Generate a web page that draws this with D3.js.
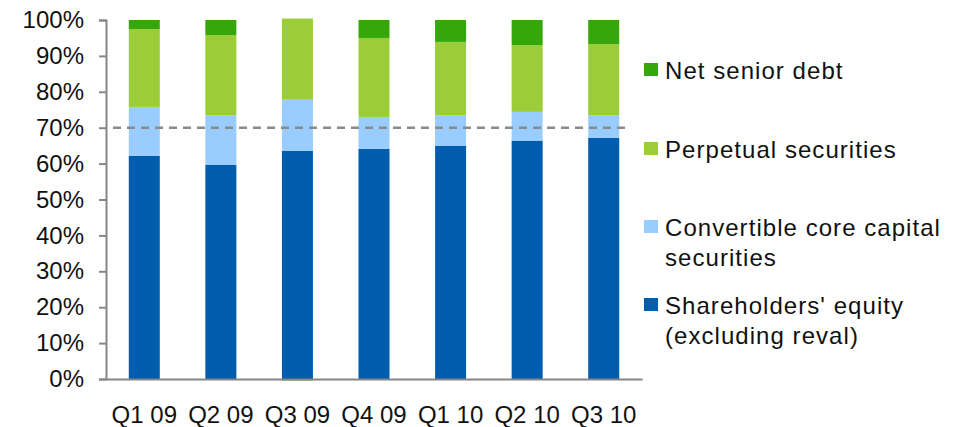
<!DOCTYPE html>
<html>
<head>
<meta charset="utf-8">
<script src="https://cdn.jsdelivr.net/npm/d3@7"></script>
<style>
  html, body { margin: 0; padding: 0; background: #fff; }
  svg text { font-family: "Liberation Sans", Arial, Helvetica, sans-serif; fill: #111; }
</style>
</head>
<body>
<svg id="chart" width="959" height="427"></svg>
<script>
// Funding mix by quarter, % of total
const quarters = ["Q1 09", "Q2 09", "Q3 09", "Q4 09", "Q1 10", "Q2 10", "Q3 10"];
const shareholdersEquity = [62.2, 59.7, 63.6, 64.1, 65.0, 66.4, 67.2];
const convertibleCore   = [13.6, 13.8, 14.2, 8.9, 8.5, 8.0, 6.3];
const perpetualSecs     = [21.7, 22.3, 22.6, 22.0, 20.4, 18.6, 19.8];
const netSeniorDebt     = [2.5, 4.2, -0.4, 5.0, 6.1, 7.0, 6.7];
const referenceLevel = 70;
const yTicks = [0, 10, 20, 30, 40, 50, 60, 70, 80, 90, 100];

const seriesNames = [
  "Shareholders' equity (excluding reval)",
  "Convertible core capital securities",
  "Perpetual securities",
  "Net senior debt"
];
const seriesValues = [shareholdersEquity, convertibleCore, perpetualSecs, netSeniorDebt];
const colors = ["#005DAE", "#99CCFF", "#9ACD38", "#36A70A"];

const rows = quarters.map((q, i) => {
  const r = { quarter: q };
  seriesNames.forEach((s, k) => { r[s] = seriesValues[k][i]; });
  return r;
});

const svg = d3.select("#chart");
const margin = { left: 106, right: 317, top: 20, bottom: 48 };
const W = 959, H = 427;

const x = d3.scaleBand().domain(quarters)
  .range([margin.left, W - margin.right]).paddingInner(0.595).paddingOuter(0.2975);
const y = d3.scaleLinear().domain([0, 100]).range([H - margin.bottom, margin.top]);

const stack = d3.stack().keys(seriesNames).offset(d3.stackOffsetDiverging);
const layers = stack(rows);

svg.append("g").selectAll("g").data(layers).join("g")
  .attr("fill", (d, i) => colors[i])
  .selectAll("rect").data(d => d).join("rect")
  .attr("x", d => x(d.data.quarter))
  .attr("width", x.bandwidth())
  .attr("y", d => y(Math.max(d[0], d[1])))
  .attr("height", d => Math.abs(y(d[0]) - y(d[1])));

// reference line
svg.append("line")
  .attr("x1", margin.left + 7).attr("x2", x(quarters[6]) + x.bandwidth() + 10)
  .attr("y1", y(referenceLevel)).attr("y2", y(referenceLevel))
  .attr("stroke", "#8a8a8a").attr("stroke-width", 2.5)
  .attr("stroke-dasharray", "8,6");

// y axis
const yAxis = d3.axisLeft(y).tickValues(yTicks).tickFormat(d => d + "%")
  .tickSize(7).tickPadding(15);
const gy = svg.append("g").attr("transform", `translate(${margin.left},0)`).call(yAxis);
gy.select(".domain").attr("stroke", "#868686").attr("stroke-width", 2);
gy.selectAll(".tick line").attr("stroke", "#868686").attr("stroke-width", 2);
gy.selectAll(".tick text").style("font-size", "24px").attr("fill", "#111");

// x axis
const xAxis = d3.axisBottom(x).tickSize(0).tickPadding(27);
const gx = svg.append("g").attr("transform", `translate(0,${y(0)})`).call(xAxis);
gx.select(".domain").attr("stroke", "#868686").attr("stroke-width", 2);
gx.selectAll(".tick text").style("font-size", "24px").attr("fill", "#111");

// legend
const legend = [
  { k: 3, lines: ["Net senior debt"], y: 79 },
  { k: 2, lines: ["Perpetual securities"], y: 158 },
  { k: 1, lines: ["Convertible core capital", "securities"], y: 236 },
  { k: 0, lines: ["Shareholders' equity", "(excluding reval)"], y: 314 }
];
const lg = svg.append("g");
legend.forEach(item => {
  lg.append("rect").attr("x", 644).attr("y", item.y - 16).attr("width", 14).attr("height", 13)
    .attr("fill", colors[item.k]);
  const t = lg.append("text").attr("x", 665).attr("y", item.y)
    .style("font-size", "24px").style("letter-spacing", "1.05px");
  item.lines.forEach((ln, i) => {
    t.append("tspan").attr("x", 665).attr("dy", i === 0 ? 0 : 30).text(ln);
  });
});
</script>
</body>
</html>
